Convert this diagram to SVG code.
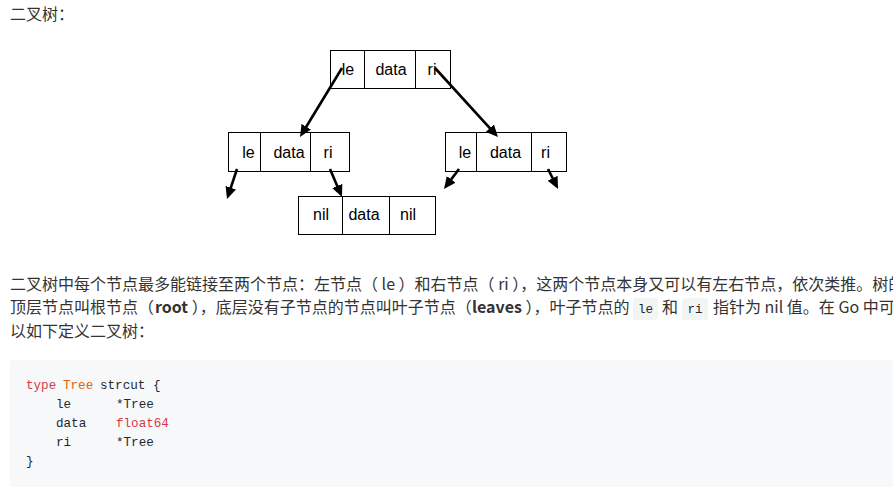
<svg xmlns="http://www.w3.org/2000/svg" width="893" height="493" viewBox="0 0 893 493">
<style>
.bg{fill:#ffffff}
.cell{fill:#ffffff;stroke:#000;stroke-width:1}
.div{stroke:#000;stroke-width:1}
.nt{font-family:"Liberation Sans",Arial,sans-serif;font-size:16px;fill:#000;text-anchor:middle}
.arr{stroke:#000;stroke-width:2.6;fill:none;marker-end:url(#ah)}
.p{font-family:"Noto Sans CJK SC","Noto Sans",sans-serif;font-size:16px;fill:#333}
.b{font-weight:bold}
.cbg{fill:#f6f8fa}
.ic{fill:#f3f4f4}
.mono{font-family:"Liberation Mono","DejaVu Sans Mono",monospace;font-size:12.6px;fill:#24292e}
.kw{fill:#d73a49}
.ty{fill:#e36209}
</style>
<defs>
<marker id="ah" markerUnits="userSpaceOnUse" markerWidth="12" markerHeight="11" refX="7" refY="5.5" orient="auto">
<path d="M0,0 L12,5.5 L0,11 z" fill="#000"/>
</marker>
</defs>
<rect class="bg" x="0" y="0" width="893" height="493"/>
<text class="p" x="10" y="20">二叉树：</text>

<g id="root">
<rect class="cell" x="330.5" y="50.5" width="120" height="38"/>
<line class="div" x1="364.5" y1="50.5" x2="364.5" y2="88.5"/>
<line class="div" x1="415.5" y1="50.5" x2="415.5" y2="88.5"/>
<text class="nt" x="348" y="75">le</text>
<text class="nt" x="391" y="75">data</text>
<text class="nt" x="432" y="75">ri</text>
</g>
<g id="left">
<rect class="cell" x="228.5" y="132.5" width="121" height="39"/>
<line class="div" x1="260.5" y1="132.5" x2="260.5" y2="171.5"/>
<line class="div" x1="310.5" y1="132.5" x2="310.5" y2="171.5"/>
<text class="nt" x="248.5" y="158">le</text>
<text class="nt" x="289" y="158">data</text>
<text class="nt" x="328" y="158">ri</text>
</g>
<g id="right">
<rect class="cell" x="445.5" y="132.5" width="121" height="39"/>
<line class="div" x1="476.5" y1="132.5" x2="476.5" y2="171.5"/>
<line class="div" x1="531.5" y1="132.5" x2="531.5" y2="171.5"/>
<text class="nt" x="465" y="158">le</text>
<text class="nt" x="505.5" y="158">data</text>
<text class="nt" x="545.5" y="158">ri</text>
</g>
<g id="leaf">
<rect class="cell" x="298.5" y="196.5" width="137" height="38"/>
<line class="div" x1="342.5" y1="196.5" x2="342.5" y2="234.5"/>
<line class="div" x1="389.5" y1="196.5" x2="389.5" y2="234.5"/>
<text class="nt" x="321" y="220">nil</text>
<text class="nt" x="364" y="220">data</text>
<text class="nt" x="408" y="220">nil</text>
</g>
<g id="connectors">
<line class="arr" x1="342" y1="68" x2="302.6" y2="132.7"/>
<line class="arr" x1="435" y1="68" x2="494.6" y2="133.3"/>
<line class="arr" x1="237" y1="169" x2="228.6" y2="194.3"/>
<line class="arr" x1="330" y1="169" x2="340" y2="192.4"/>
<line class="arr" x1="459" y1="169" x2="447" y2="185"/>
<line class="arr" x1="548" y1="169" x2="555.8" y2="184.5"/>
</g>

<text class="p" y="290"><tspan x="10">二叉树中每个节点最多能链接至两个节点：左节点（ le ）和右节点（ ri ），这两个节点本身又可以有左右节点，依次类推。树的</tspan></text>
<rect class="ic" x="633" y="298" width="25" height="22" rx="3"/>
<rect class="ic" x="682" y="298" width="26" height="22" rx="3"/>
<text class="p" y="313"><tspan x="10">顶层节点叫根节点（</tspan><tspan x="155" class="b">root</tspan><tspan> ），底层没有子节点的节点叫叶子节点（</tspan><tspan x="472" class="b">leaves</tspan><tspan> ），叶子节点的</tspan><tspan x="662">和</tspan><tspan x="713">指针为 nil 值。在 Go 中可</tspan></text>
<text class="mono" x="645.5" y="313" text-anchor="middle">le</text>
<text class="mono" x="695" y="313" text-anchor="middle">ri</text>
<text class="p" x="10" y="337">以如下定义二叉树：</text>

<rect class="cbg" x="10" y="360" width="900" height="127" rx="3"/>
<text class="mono" y="389"><tspan x="26" class="kw">type</tspan><tspan x="63" class="ty">Tree</tspan><tspan x="100">strcut {</tspan></text>
<text class="mono" y="408"><tspan x="56">le</tspan><tspan x="116">*Tree</tspan></text>
<text class="mono" y="427"><tspan x="56">data</tspan><tspan x="116" class="kw">float64</tspan></text>
<text class="mono" y="446"><tspan x="56">ri</tspan><tspan x="116">*Tree</tspan></text>
<text class="mono" x="26" y="465">}</text>
</svg>
